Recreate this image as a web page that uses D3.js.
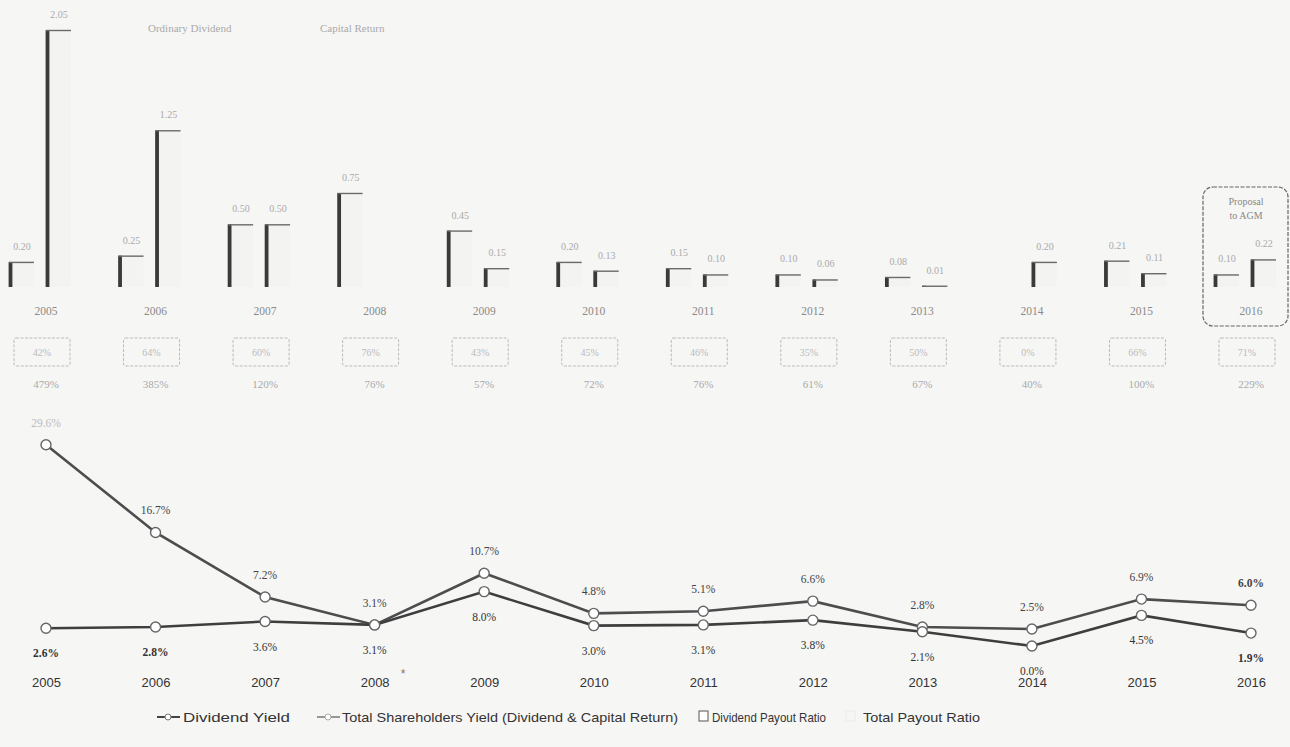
<!DOCTYPE html>
<html><head><meta charset="utf-8">
<script src="https://cdn.jsdelivr.net/npm/d3@7/dist/d3.min.js"></script>
<style>
html,body{margin:0;padding:0;background:#f6f6f5;}
svg{display:block;}
</style></head>
<body>
<svg id="c" width="1290" height="747"></svg>
<script>
const years = [2005,2006,2007,2008,2009,2010,2011,2012,2013,2014,2015,2016];
const ordinaryDividend = [0.20,0.25,0.50,0.75,0.45,0.20,0.15,0.10,0.08,0,0.21,0.10];
const capitalReturn   = [2.05,1.25,0.50,0,0.15,0.13,0.10,0.06,0.01,0.20,0.11,0.22];
const dividendPayout  = [42,64,60,76,43,45,46,35,50,0,66,71];
const totalPayout     = [479,385,120,76,57,72,76,61,67,40,100,229];
const dividendYield   = [2.6,2.8,3.6,3.1,8.0,3.0,3.1,3.8,2.1,0.0,4.5,1.9];
const totalYield      = [29.6,16.7,7.2,3.1,10.7,4.8,5.1,6.6,2.8,2.5,6.9,6.0];
const barLegend = ["Ordinary Dividend","Capital Return"];
const lineLegend = ["Dividend Yield","Total Shareholders Yield (Dividend & Capital Return)","Dividend Payout Ratio","Total Payout Ratio"];

const svg = d3.select("#c");
const serif = "'Liberation Serif','DejaVu Serif',serif";
const narrow = "'Liberation Sans Narrow','Liberation Sans',Arial,sans-serif";

const x = d3.scalePoint().domain(years).range([46,1251]);
const yb = d3.scaleLinear().domain([0,2.05]).range([287,30]);
const yl = d3.scaleLinear().domain([0,30]).range([646,442]);

// top legend
svg.append("text").attr("x",148).attr("y",32).text(barLegend[0])
  .attr("font-family",serif).attr("font-size",11).attr("fill","#aaa");
svg.append("text").attr("x",320).attr("y",32).text(barLegend[1])
  .attr("font-family",serif).attr("font-size",11).attr("fill","#aaa");

// bars
const barW = 25;
const bars = [];
years.forEach((yr,i)=>{
  bars.push({yr, v:ordinaryDividend[i], off:-37});
  bars.push({yr, v:capitalReturn[i], off:0});
});
const bg = svg.append("g");
bars.filter(d=>d.v>0).forEach(d=>{
  const x0 = x(d.yr)+d.off, yt = yb(d.v);
  bg.append("rect").attr("x",x0).attr("y",yt).attr("width",barW).attr("height",yb(0)-yt)
    .attr("fill","#f3f3f2");
  bg.append("line").attr("x1",x0+1.5).attr("x2",x0+1.5).attr("y1",yt).attr("y2",yb(0))
    .attr("stroke","#3a3a3a").attr("stroke-width",3.8);
  bg.append("line").attr("x1",x0).attr("x2",x0+barW).attr("y1",yt+0.5).attr("y2",yt+0.5)
    .attr("stroke","#6a6a6a").attr("stroke-width",1.4);
  bg.append("text").attr("x",x0+13).attr("y",yt-12).attr("text-anchor","middle")
    .attr("font-family",serif).attr("font-size",10).attr("fill","#aaa")
    .text(d3.format(".2f")(d.v));
});

// top year labels
svg.append("g").selectAll("text").data(years).join("text")
  .attr("x",d=>x(d)).attr("y",315).attr("text-anchor","middle")
  .attr("font-family",serif).attr("font-size",11.5).attr("fill","#8a8a8a").text(d=>d);

// Proposal box
svg.append("rect").attr("x",1203).attr("y",187).attr("width",85).attr("height",139)
  .attr("rx",10).attr("fill","none").attr("stroke","#666").attr("stroke-width",1.2)
  .attr("stroke-dasharray","4,1.5");
svg.append("text").attr("x",1246).attr("y",205).attr("text-anchor","middle")
  .attr("font-family",serif).attr("font-size",10).attr("fill","#888").text("Proposal");
svg.append("text").attr("x",1246).attr("y",219).attr("text-anchor","middle")
  .attr("font-family",serif).attr("font-size",10).attr("fill","#888").text("to AGM");

// payout boxes
const pb = svg.append("g");
years.forEach((yr,i)=>{
  const cx = x(yr)-4;
  pb.append("rect").attr("x",cx-28).attr("y",338).attr("width",56).attr("height",28)
    .attr("rx",2).attr("fill","none").attr("stroke","#bbb").attr("stroke-width",1)
    .attr("stroke-dasharray","3,1.5");
  pb.append("text").attr("x",cx).attr("y",356).attr("text-anchor","middle")
    .attr("font-family",serif).attr("font-size",10).attr("fill","#bbb").text(dividendPayout[i]+"%");
  pb.append("text").attr("x",x(yr)).attr("y",388).attr("text-anchor","middle")
    .attr("font-family",serif).attr("font-size",11).attr("fill","#aaa").text(totalPayout[i]+"%");
});

// lines
const lineGen = d3.line().x((d,i)=>x(years[i])).y(d=>yl(d));
svg.append("path").datum(totalYield).attr("d",lineGen).attr("fill","none")
  .attr("stroke","#4d4d4d").attr("stroke-width",2.6);
svg.append("path").datum(dividendYield).attr("d",lineGen).attr("fill","none")
  .attr("stroke","#3e3e3e").attr("stroke-width",2.6);
[totalYield, dividendYield].forEach(arr=>{
  svg.append("g").selectAll("circle").data(arr).join("circle")
    .attr("cx",(d,i)=>x(years[i])).attr("cy",d=>yl(d)).attr("r",5)
    .attr("fill","#fff").attr("stroke","#666").attr("stroke-width",1.4);
});
// labels
svg.append("g").selectAll("text").data(totalYield).join("text")
  .attr("x",(d,i)=>x(years[i])).attr("y",d=>yl(d)-18).attr("text-anchor","middle")
  .attr("font-family",serif).attr("font-size",11.5).attr("fill",(d,i)=>i===0?"#bbb":"#444")
  .attr("font-weight",(d,i)=>(i===11)?"bold":"normal")
  .text(d=>d3.format(".1f")(d)+"%");
svg.append("g").selectAll("text").data(dividendYield).join("text")
  .attr("x",(d,i)=>x(years[i])).attr("y",d=>yl(d)+29).attr("text-anchor","middle")
  .attr("font-family",serif).attr("font-size",11.5).attr("fill","#333")
  .attr("font-weight",(d,i)=>(i<2||i===11)?"bold":"normal")
  .text(d=>d3.format(".1f")(d)+"%");

// bottom axis
const ax = svg.append("g").attr("transform","translate(0,668)")
  .call(d3.axisBottom(x).tickSize(0).tickPadding(10));
ax.select(".domain").remove();
ax.selectAll("text").attr("font-family",narrow).attr("font-size",13).attr("fill","#333");
svg.append("text").attr("x",x(2008)+26).attr("y",678).attr("font-family",narrow)
  .attr("font-size",12).attr("fill","#777").text("*");

// bottom legend
const lg = svg.append("g").attr("font-family",narrow).attr("font-size",13.5).attr("fill","#333");
lg.append("line").attr("x1",157).attr("x2",180).attr("y1",717).attr("y2",717).attr("stroke","#444").attr("stroke-width",2);
lg.append("circle").attr("cx",168).attr("cy",717).attr("r",3).attr("fill","#fff").attr("stroke","#777");
lg.append("text").attr("x",183).attr("y",721.5).attr("textLength",107).attr("lengthAdjust","spacingAndGlyphs").text(lineLegend[0]);
lg.append("line").attr("x1",317).attr("x2",340).attr("y1",717).attr("y2",717).attr("stroke","#777").attr("stroke-width",1.5);
lg.append("circle").attr("cx",328).attr("cy",717).attr("r",3).attr("fill","#fff").attr("stroke","#aaa");
lg.append("text").attr("x",342).attr("y",721.5).attr("textLength",336).attr("lengthAdjust","spacingAndGlyphs").text(lineLegend[1]);
lg.append("rect").attr("x",699).attr("y",711).attr("width",9).attr("height",10).attr("fill","#fff").attr("stroke","#555");
lg.append("text").attr("x",712).attr("y",721.5).attr("textLength",114).attr("lengthAdjust","spacingAndGlyphs").text(lineLegend[2]);
lg.append("rect").attr("x",846).attr("y",711).attr("width",9).attr("height",10).attr("fill","none").attr("stroke","#ececec");
lg.append("text").attr("x",863).attr("y",721.5).attr("textLength",117).attr("lengthAdjust","spacingAndGlyphs").text(lineLegend[3]);
</script>
</body></html>
